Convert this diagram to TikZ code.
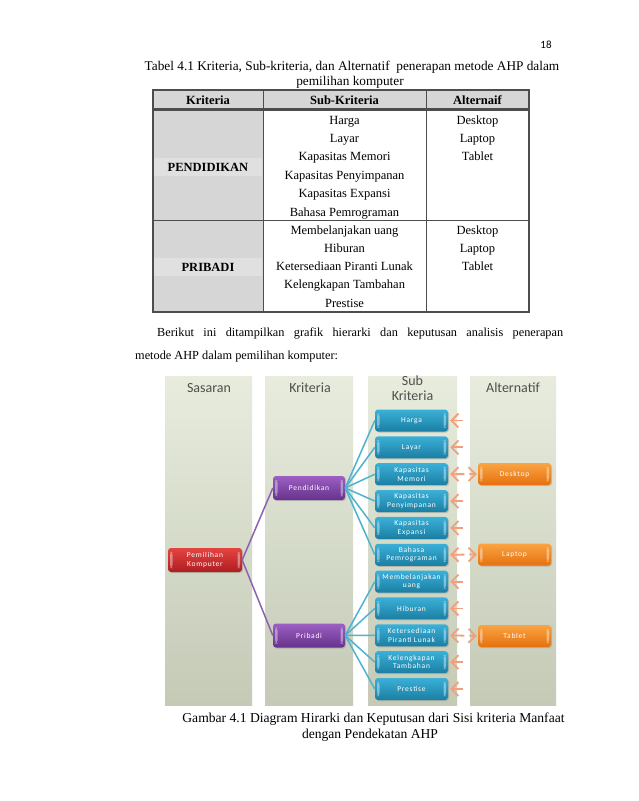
\documentclass[tikz,border=0pt]{standalone}
\usepackage{fontspec}
\setmainfont{Liberation Serif}
\newfontfamily\calib{Carlito}
\newfontfamily\calibsp[LetterSpace=10]{Carlito}
\usetikzlibrary{arrows.meta,shadows,calc}
\definecolor{tabline}{HTML}{4D4D4D}
\definecolor{tabgray}{HTML}{D6D6D6}
\definecolor{tabband}{HTML}{E0E0E0}
\definecolor{panTop}{HTML}{E7ECDD}
\definecolor{panBot}{HTML}{C4CAB6}
\definecolor{headtxt}{HTML}{4F4F4F}
\definecolor{blueT}{HTML}{3BB0D8}
\definecolor{blueB}{HTML}{1A7EA2}
\definecolor{redT}{HTML}{E4443F}
\definecolor{redB}{HTML}{AE1D22}
\definecolor{purT}{HTML}{9C60C2}
\definecolor{purB}{HTML}{66318C}
\definecolor{orT}{HTML}{FAA443}
\definecolor{orB}{HTML}{E6700F}
\definecolor{purLine}{HTML}{8E62AE}
\definecolor{bluLine}{HTML}{4DB3CF}
\definecolor{orLine}{HTML}{F2A07C}
\begin{document}
\begin{tikzpicture}[x=1pt,y=-1pt,
  tabtxt/.style={font=\fontsize{12.5}{14}\selectfont, inner sep=0pt, anchor=base},
  tabbold/.style={tabtxt, font=\fontsize{12.5}{14}\selectfont\bfseries},
  captxt/.style={font=\fontsize{13.3}{15}\selectfont, inner sep=0pt, anchor=base},
  bodytxt/.style={font=\fontsize{12.3}{15}\selectfont, inner sep=0pt},
  figcap/.style={font=\fontsize{13.6}{15}\selectfont, inner sep=0pt, anchor=base},
  colhead/.style={font=\calib\fontsize{14}{15}\selectfont, text=headtxt, align=center, inner sep=0pt},
  hbox/.style={rounded corners=3pt, minimum width=73pt, minimum height=22pt, inner sep=0pt,
     text=white, font=\calibsp\fontsize{7.5}{8.5}\selectfont, align=center,
     drop shadow={opacity=0.35,shadow xshift=1pt,shadow yshift=-1pt},
     path picture={
       \fill[white,opacity=0.4] ([xshift=2pt,yshift=4pt]path picture bounding box.south west) rectangle ([xshift=4.5pt,yshift=-4pt]path picture bounding box.north west);
       \fill[white,opacity=0.4] ([xshift=-2pt,yshift=4pt]path picture bounding box.south east) rectangle ([xshift=-4.5pt,yshift=-4pt]path picture bounding box.north east);
     }},
  bluebox/.style={hbox, top color=blueT, bottom color=blueB},
  redbox/.style={hbox, top color=redT, bottom color=redB, minimum width=74pt, minimum height=24pt},
  purbox/.style={hbox, top color=purT, bottom color=purB, minimum width=72pt, minimum height=24pt},
  orbox/.style={hbox, top color=orT, bottom color=orB},
  purcon/.style={draw=purLine, line width=1.5pt},
  blucon/.style={draw=bluLine, line width=1.5pt},
  orarr/.style={draw=orLine, line width=1.8pt, arrows={Straight Barb[length=7pt,width=14pt]-}},
  orarr2/.style={draw=orLine, line width=1.8pt, arrows={Straight Barb[length=7pt,width=14pt]-Straight Barb[length=7pt,width=14pt]}, dash pattern=on 12pt off 5pt on 20pt},
]
\useasboundingbox[fill=white] (0,0) rectangle (638,801);

% page number
\node[font=\calib\fontsize{11}{12}\selectfont, inner sep=0pt] (pnum) at (546,45) {18};

% table caption
\node[captxt] (cap1) at (352,70) {Tabel 4.1 Kriteria, Sub-kriteria, dan Alternatif\ \ penerapan metode AHP dalam};
\node[captxt] (cap2) at (350,85.5) {pemilihan komputer};

% table
\fill[tabgray] (153,90) rectangle (529,109);
\fill[tabgray] (153,109) rectangle (263,312);
\fill[tabband] (154,158) rectangle (262,176);
\fill[tabband] (154,258) rectangle (262,276);
\draw[tabline, line width=1.3pt] (153,90) rectangle (529,312);
\draw[tabline, line width=2.2pt] (153,109.5) -- (529,109.5);
\draw[tabline, line width=1pt] (153,220) -- (529,220);
\draw[tabline, line width=1pt] (263,90) -- (263,312);
\draw[tabline, line width=1pt] (426,90) -- (426,312);

\node[tabbold] (hk) at (208,104) {Kriteria};
\node[tabbold] (hs) at (344.5,104) {Sub-Kriteria};
\node[tabbold] (ha) at (477.5,104) {Alternaif};

\node[tabbold] (kp) at (208,171) {PENDIDIKAN};
\node[tabbold] (kb) at (208,271) {PRIBADI};

\foreach \t [count=\i] in {Harga,Layar,Kapasitas Memori,Kapasitas Penyimpanan,Kapasitas Expansi,Bahasa Pemrograman}
  \node[tabtxt] (ta\i) at (344.5,{124+18.4*(\i-1)}) {\t};
\foreach \t [count=\i] in {Desktop,Laptop,Tablet}
  \node[tabtxt] (tb\i) at (477.5,{124+18.4*(\i-1)}) {\t};
\foreach \t [count=\i] in {Membelanjakan uang,Hiburan,Ketersediaan Piranti Lunak,Kelengkapan Tambahan,Prestise}
  \node[tabtxt] (tc\i) at (344.5,{234+18.3*(\i-1)}) {\t};
\foreach \t [count=\i] in {Desktop,Laptop,Tablet}
  \node[tabtxt] (td\i) at (477.5,{234+18.3*(\i-1)}) {\t};

% paragraph
\node[bodytxt, anchor=base west] (par1) at (157,336) {\makebox[406pt][s]{Berikut ini ditampilkan grafik hierarki dan keputusan analisis penerapan}};
\node[bodytxt, anchor=base west] (par2) at (135,359) {metode AHP dalam pemilihan komputer:};

% diagram panels
\foreach \xa/\xb in {165/252, 265/353, 368/457, 470/556}
  \shade[top color=panTop, bottom color=panBot] (\xa,376) rectangle (\xb,705);

\node[colhead] (hSas) at (209,388) {Sasaran};
\node[colhead] (hKri) at (310,388) {Kriteria};
\node[colhead] (hSub) at (412.5,388) {Sub\\Kriteria};
\node[colhead] (hAlt) at (513,388) {Alternatif};

% nodes
\node[redbox] (goal) at (205,560) {Pemilihan\\Komputer};
\node[purbox] (pend) at (309,488) {Pendidikan};
\node[purbox] (prib) at (309,635.5) {Pribadi};

\foreach \t [count=\i] in {Harga,Layar,{Kapasitas\\Memori},{Kapasitas\\Penyimpanan},{Kapasitas\\Expansi},{Bahasa\\Pemrograman},{Membelanjakan\\uang},Hiburan,{Ketersediaan\\Piranti Lunak},{Kelengkapan\\Tambahan},Prestise}
  \node[bluebox] (s\i) at (411.5,{420.5+26.85*(\i-1)}) {\t};

\node[orbox] (desk) at (514.5,474) {Desktop};
\node[orbox] (lap) at (514.5,554.5) {Laptop};
\node[orbox] (tab) at (514.5,636) {Tablet};

% connectors
\draw[purcon] (goal.east) -- (pend.west);
\draw[purcon] (goal.east) -- (prib.west);
\foreach \i in {1,...,6}
  \draw[blucon] (pend.east) -- (s\i.west);
\foreach \i in {7,...,11}
  \draw[blucon] (prib.east) -- (s\i.west);

\foreach \i in {1,2,4,5,7,8,10,11}{
  \coordinate (e\i) at ($(s\i.east)+(15,0)$);
  \draw[orarr, shorten <=2pt] (s\i.east) -- (e\i);
}
\draw[orarr2, shorten <=2pt, shorten >=1pt] (s3.east) -- (desk.west);
\draw[orarr2, shorten <=2pt, shorten >=1pt] (s6.east) -- (lap.west);
\draw[orarr2, shorten <=2pt, shorten >=1pt] (s9.east) -- (tab.west);

% figure caption
\node[figcap] (fc1) at (373.5,722) {Gambar 4.1 Diagram Hirarki dan Keputusan dari Sisi kriteria Manfaat};
\node[figcap] (fc2) at (370,738) {dengan Pendekatan AHP};
\end{tikzpicture}
\end{document}
